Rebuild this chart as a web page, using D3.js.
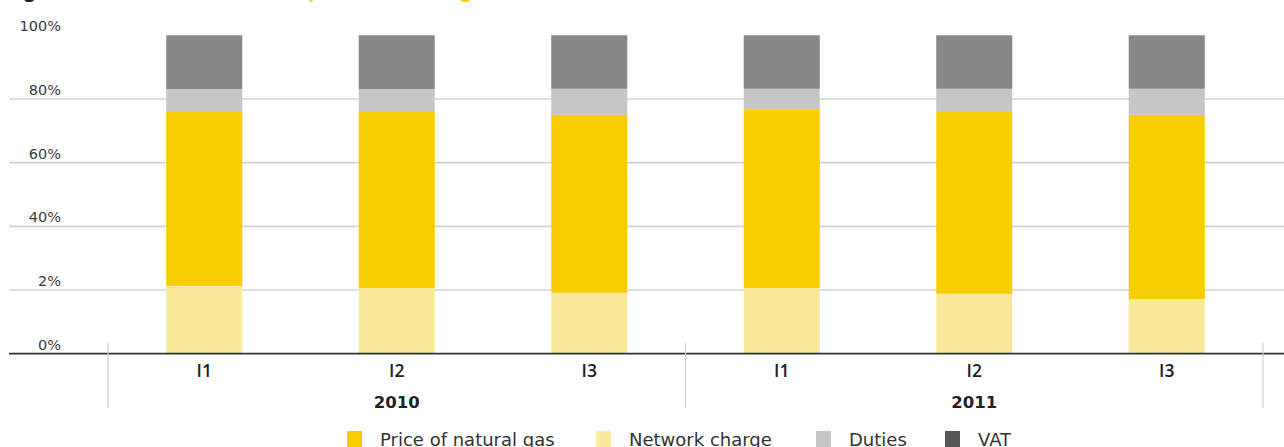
<!DOCTYPE html>
<html>
<head>
<meta charset="utf-8">
<script src="https://cdn.jsdelivr.net/npm/d3@7"></script>
<style>
  html, body { margin: 0; padding: 0; background: #fff; }
  svg { display: block; font-family: "DejaVu Sans", "Open Sans", sans-serif; }
</style>
</head>
<body>
<svg id="chart" width="1284" height="447"></svg>
<script>
// Half-year periods and the year each one belongs to
const periods = ["2010-I1", "2010-I2", "2010-I3", "2011-I1", "2011-I2", "2011-I3"];
const periodLabels = ["I1", "I2", "I3", "I1", "I2", "I3"];
const years = ["2010", "2011"];

// Share of the final price per component, in percent
const networkCharge = [21.3, 20.6, 19.1, 20.6, 18.8, 17.2];
const gasPrice      = [54.6, 55.3, 55.9, 56.2, 57.1, 57.8];
const duties        = [7.2, 7.2, 8.2, 6.4, 7.3, 8.2];
const vat           = [16.9, 16.9, 16.8, 16.8, 16.8, 16.8];

// Axis ticks and their labels as printed
const yTicks = [0, 20, 40, 60, 80, 100];
const yTickLabels = ["0%", "2%", "40%", "60%", "80%", "100%"];

const seriesNames = ["Network charge", "Price of natural gas", "Duties", "VAT"];
const legendNames = ["Price of natural gas", "Network charge", "Duties", "VAT"];
const barColors = {
  "Network charge": "#FAE99A",
  "Price of natural gas": "#F7CD00",
  "Duties": "#C6C6C6",
  "VAT": "#878787"
};
const legendColors = {
  "Network charge": "#FAE99A",
  "Price of natural gas": "#F7CD00",
  "Duties": "#C6C6C6",
  "VAT": "#555555"
};

const rows = periods.map((p, i) => ({
  period: p,
  "Network charge": networkCharge[i],
  "Price of natural gas": gasPrice[i],
  "Duties": duties[i],
  "VAT": vat[i]
}));

const svg = d3.select("#chart");
const W = 1284;

const y = d3.scaleLinear().domain([0, 100]).range([353.7, 35.3]);
const x = d3.scaleBand().domain(periods).range([108, 1263]).paddingInner(0).paddingOuter(0);
const barW = x.bandwidth() * 0.395;

// Title (runs off the top edge)
const title = svg.append("text")
  .attr("x", 8).attr("y", -3)
  .attr("font-family", "Open Sans, sans-serif")
  .attr("font-size", 19).attr("font-weight", 700);
title.append("tspan").attr("fill", "#222").text("Figure 12: ");
title.append("tspan").attr("fill", "#F7CD00").text("Structure of the final price of natural gas for households");

// Horizontal gridlines
svg.append("g").selectAll("line")
  .data(yTicks.filter(t => t > 0 && t < 100))
  .join("line")
  .attr("x1", 9).attr("x2", W)
  .attr("y1", d => y(d)).attr("y2", d => y(d))
  .attr("stroke", "#D4D4D4").attr("stroke-width", 1.6);

// Y tick labels, sitting just above their lines
svg.append("g").selectAll("text")
  .data(yTicks)
  .join("text")
  .attr("x", 61)
  .attr("y", d => y(d) - 4)
  .attr("text-anchor", "end")
  .attr("font-size", 14.5)
  .attr("fill", "#3a3a3a")
  .text((d, i) => yTickLabels[i]);

// Stacked bars
const stack = d3.stack().keys(seriesNames);
const layers = stack(rows);
svg.append("g").selectAll("g")
  .data(layers)
  .join("g")
  .attr("fill", d => barColors[d.key])
  .selectAll("rect")
  .data(d => d)
  .join("rect")
  .attr("x", d => x(d.data.period) + (x.bandwidth() - barW) / 2)
  .attr("width", barW)
  .attr("y", d => y(d[1]))
  .attr("height", d => y(d[0]) - y(d[1]));

// Baseline
svg.append("line")
  .attr("x1", 9).attr("x2", W)
  .attr("y1", y(0)).attr("y2", y(0))
  .attr("stroke", "#333").attr("stroke-width", 1.8);

// Group dividers between years
const groupEdges = [periods[0], periods[3]].map(p => x(p)).concat([x.range()[1]]);
svg.append("g").selectAll("line")
  .data(groupEdges)
  .join("line")
  .attr("x1", d => d).attr("x2", d => d)
  .attr("y1", 343).attr("y2", 408)
  .attr("stroke", "#CFCFCF").attr("stroke-width", 1.2);

// Period labels
svg.append("g").selectAll("text")
  .data(periods)
  .join("text")
  .attr("x", d => x(d) + x.bandwidth() / 2)
  .attr("y", 377)
  .attr("text-anchor", "middle")
  .attr("font-family", "Open Sans, sans-serif")
  .attr("font-size", 17.5)
  .attr("font-weight", 600)
  .attr("fill", "#222")
  .text((d, i) => periodLabels[i]);

// Year labels centred under each group
svg.append("g").selectAll("text")
  .data(years)
  .join("text")
  .attr("x", (d, i) => (x(periods[i * 3]) + x(periods[i * 3 + 2]) + x.bandwidth()) / 2)
  .attr("y", 408)
  .attr("text-anchor", "middle")
  .attr("font-size", 16.5)
  .attr("font-weight", 700)
  .attr("fill", "#222")
  .text(d => d);

// Legend
const legend = svg.append("g");
const legendX = [347, 596, 816, 945];
legendNames.forEach((name, i) => {
  const g = legend.append("g").attr("transform", `translate(${legendX[i]},0)`);
  g.append("rect").attr("x", 0).attr("y", 431).attr("width", 15).attr("height", 16)
    .attr("fill", legendColors[name]);
  g.append("text").attr("x", 33).attr("y", 445.5)
    .attr("font-size", 18).attr("fill", "#333").text(name);
});
</script>
</body>
</html>
